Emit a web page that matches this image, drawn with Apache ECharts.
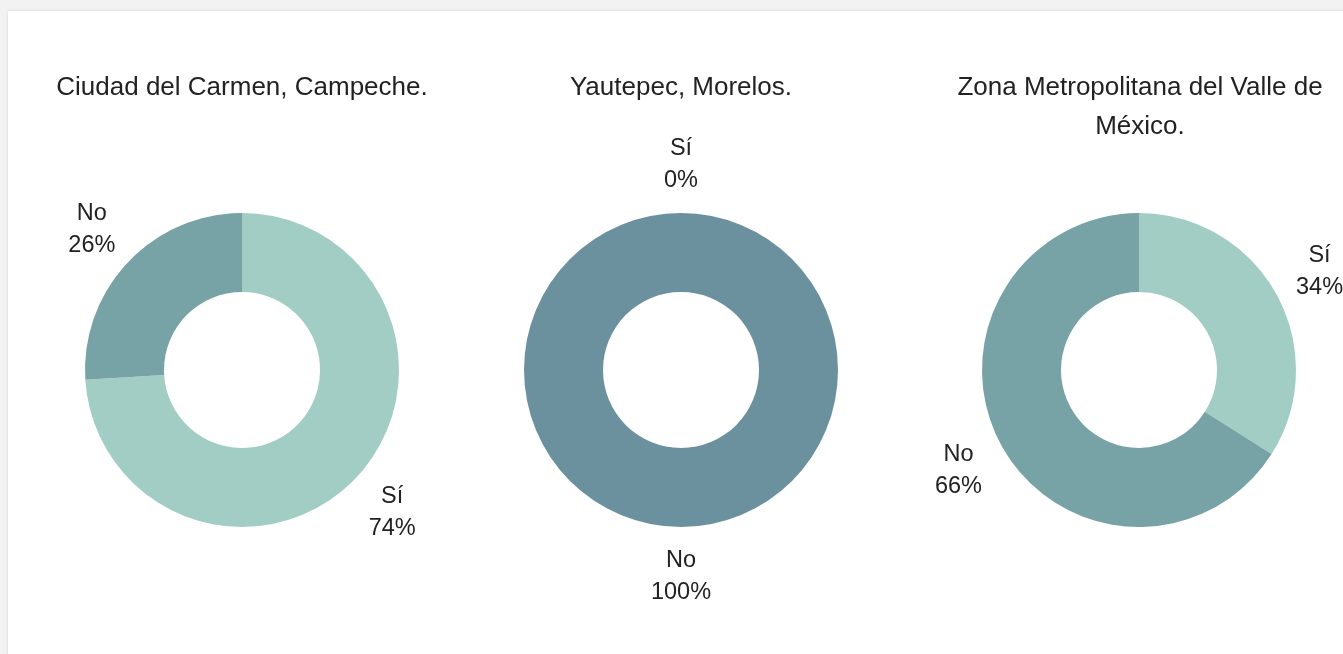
<!DOCTYPE html>
<html>
<head>
<meta charset="utf-8">
<script src="https://cdn.jsdelivr.net/npm/echarts@6/dist/echarts.min.js"></script>
<style>
  html, body { margin: 0; padding: 0; width: 1343px; height: 654px; overflow: hidden; background: #f2f2f2; }
  #card { position: absolute; left: 8px; top: 11px; width: 1400px; height: 700px; background: #ffffff; box-shadow: 0 0 3px rgba(0,0,0,0.12); }
  #chart { position: absolute; left: 0; top: 0; width: 1343px; height: 654px; }
</style>
</head>
<body>
<div id="card"></div>
<div id="chart"></div>
<script>
const titles = ['Ciudad del Carmen, Campeche.', 'Yautepec, Morelos.', 'Zona Metropolitana del Valle de\nMéxico.'];
const categories = ['Sí', 'No'];
const siValues = [74, 0, 34];
const noValues = [26, 100, 66];
const siColors = ['#a1cdc4', '#a1cdc4', '#a1cdc4'];
const noColors = ['#77a3a6', '#6b919e', '#77a3a6'];

const centersX = [242, 681, 1139];
const centerY = 370;
const fontFamily = '"Liberation Sans", Arial, sans-serif';
const textColor = '#222222';

const chart = echarts.init(document.getElementById('chart'), null, { renderer: 'canvas' });

const title = titles.map((t, i) => ({
  text: t,
  left: centersX[i] + (i === 2 ? 1 : 0),
  top: 68,
  padding: 0,
  textAlign: 'center',
  textStyle: {
    fontFamily: fontFamily,
    fontSize: 26,
    fontWeight: 'normal',
    color: textColor,
    lineHeight: 39
  }
}));

const series = [];
titles.forEach((t, i) => {
  const data = [
    { name: categories[0], value: siValues[i], itemStyle: { color: siColors[i] } },
    { name: categories[1], value: noValues[i], itemStyle: { color: noColors[i] } }
  ];
  series.push({
    type: 'pie',
    center: [centersX[i], centerY],
    radius: [78, 157],
    startAngle: 90,
    clockwise: true,
    silent: true,
    animation: false,
    label: { show: false },
    labelLine: { show: false },
    itemStyle: { borderWidth: 0 },
    data: data
  });
  series.push({
    type: 'pie',
    center: [centersX[i], centerY + 1],
    radius: [193, 213],
    startAngle: 90,
    clockwise: true,
    silent: true,
    animation: false,
    itemStyle: { color: 'rgba(0,0,0,0)', borderWidth: 0 },
    label: {
      show: true,
      position: 'inside',
      formatter: '{b}\n{c}%',
      fontFamily: fontFamily,
      fontSize: 23.5,
      lineHeight: 32,
      color: textColor,
      textBorderWidth: 0,
      align: 'center'
    },
    labelLine: { show: false },
    data: data.map(d => ({ name: d.name, value: d.value }))
  });
});

chart.setOption({
  backgroundColor: 'transparent',
  animation: false,
  title: title,
  series: series
});
</script>
</body>
</html>
